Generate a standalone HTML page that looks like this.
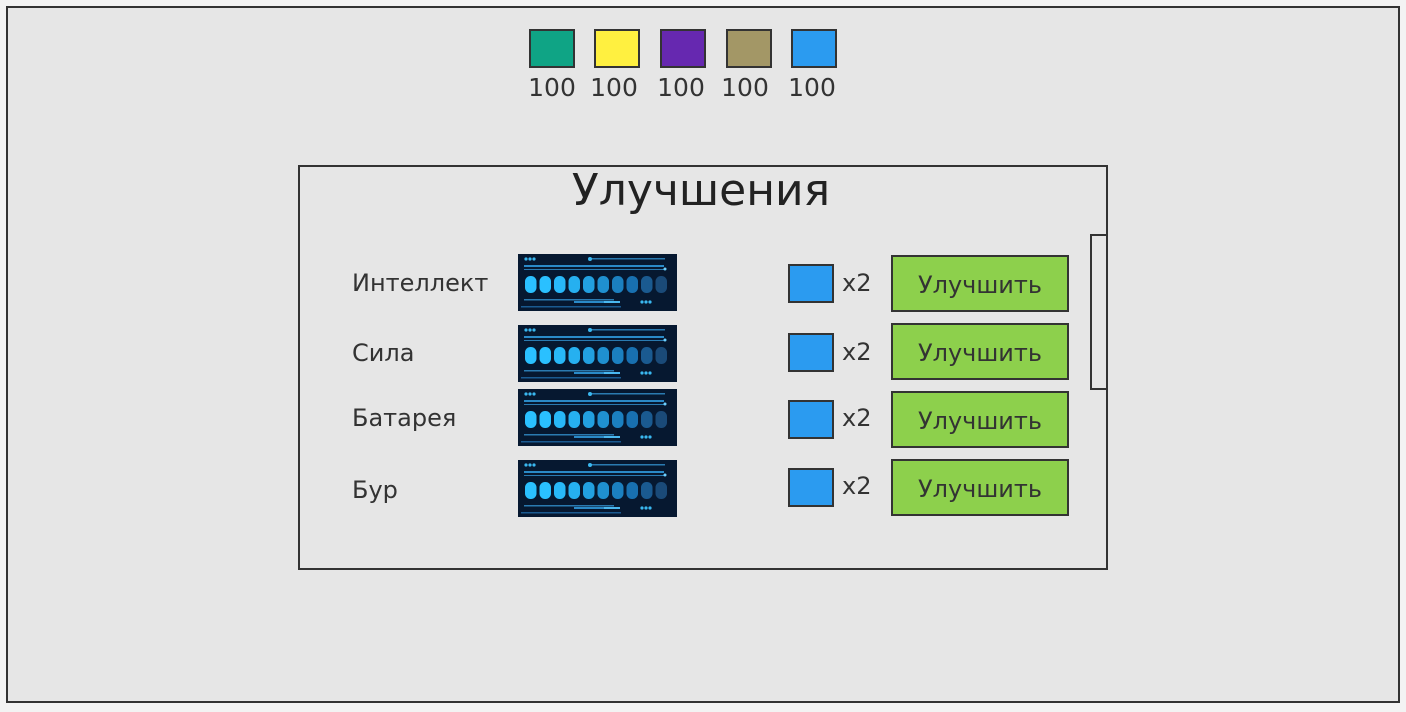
<!DOCTYPE html>
<html><head><meta charset="utf-8"><style>
body{margin:0;width:1406px;height:712px;background:#f3f3f3;position:relative;overflow:hidden;font-family:"DejaVu Sans","Liberation Sans",sans-serif;color:#333}
.a{position:absolute;box-sizing:border-box}
.sq{border:2px solid #333;width:46px;height:39px;top:29px}
.n{top:73px;width:60px;text-align:center;font-size:25px;line-height:30px}
.lbl{left:352px;font-size:24px;line-height:30px}
.bar{left:518px;width:159px;height:57px}
.bs{left:788px;width:46px;height:39px;background:#2b9bf0;border:2px solid #333}
.x2{left:842px;font-size:24px;line-height:30px}
.btn{left:891px;width:178px;height:57px;background:#8dd04c;border:2px solid #333;font-size:24px;text-align:center;line-height:56px}
</style></head><body>
<svg width="0" height="0" style="position:absolute"><defs>
<symbol id="b" viewBox="0 0 159 57">
<rect width="159" height="57" fill="#061830"/>
<circle cx="8" cy="5" r="1.6" fill="#3ab8f0"/><circle cx="12" cy="5" r="1.6" fill="#3ab8f0"/><circle cx="16" cy="5" r="1.6" fill="#3ab8f0"/>
<rect x="72" y="4" width="75" height="1.5" fill="#2a7ab0"/><circle cx="72" cy="5" r="2" fill="#3ab8f0"/>
<rect x="6" y="11" width="140" height="2" fill="#2a8ac8"/><rect x="6" y="15" width="141" height="1" fill="#2a7ab0"/><circle cx="147" cy="15" r="1.5" fill="#6cd0ff"/>
<g>
<rect x="7" y="22" width="11.5" height="17" rx="5.5" fill="#2ac0ff"/><rect x="21.5" y="22" width="11.5" height="17" rx="5.5" fill="#2ac0ff"/><rect x="36" y="22" width="11.5" height="17" rx="5.5" fill="#28b8f8"/><rect x="50.5" y="22" width="11.5" height="17" rx="5.5" fill="#26b0f0"/><rect x="65" y="22" width="11.5" height="17" rx="5.5" fill="#22a0e0"/><rect x="79.5" y="22" width="11.5" height="17" rx="5.5" fill="#1f90d0"/><rect x="94" y="22" width="11.5" height="17" rx="5.5" fill="#1b80c0"/><rect x="108.5" y="22" width="11.5" height="17" rx="5.5" fill="#1870b0"/><rect x="123" y="22" width="11.5" height="17" rx="5.5" fill="#1a5a90"/><rect x="137.5" y="22" width="11.5" height="17" rx="5.5" fill="#1a4a78"/></g>
<rect x="6" y="45" width="90" height="1.5" fill="#2a7ab0"/><rect x="56" y="47" width="33" height="2" fill="#2a8ac8"/><rect x="86" y="47" width="16" height="2" fill="#4ab8f0"/>
<circle cx="124" cy="48" r="1.6" fill="#3ab8f0"/><circle cx="128" cy="48" r="1.6" fill="#3ab8f0"/><circle cx="132" cy="48" r="1.6" fill="#3ab8f0"/>
<rect x="3" y="52" width="100" height="1.5" fill="#1a5a90"/>
</symbol></defs></svg>
<div class="a" style="left:6px;top:6px;width:1394px;height:697px;border:2px solid #333;background:#e6e6e6"></div>

<div class="a sq" style="left:529px;background:#0fa485"></div>
<div class="a sq" style="left:594px;background:#fff040"></div>
<div class="a sq" style="left:660px;background:#6628b0"></div>
<div class="a sq" style="left:726px;background:#a39766"></div>
<div class="a sq" style="left:791px;background:#2b9bf0"></div>
<div class="a n" style="left:522px">100</div>
<div class="a n" style="left:584px">100</div>
<div class="a n" style="left:651px">100</div>
<div class="a n" style="left:715px">100</div>
<div class="a n" style="left:782px">100</div>

<div class="a" style="left:298px;top:165px;width:810px;height:405px;border:2px solid #333"></div>
<div class="a" style="left:298px;top:163px;width:806px;text-align:center;font-size:44px;line-height:56px;color:#222">Улучшения</div>
<div class="a" style="left:1090px;top:234px;width:18px;height:156px;border:2px solid #333;border-right:none"></div>

<div class="a lbl" style="top:268px">Интеллект</div>
<div class="a lbl" style="top:338px">Сила</div>
<div class="a lbl" style="top:403px">Батарея</div>
<div class="a lbl" style="top:475px">Бур</div>

<svg class="a bar" style="top:254px"><use href="#b"/></svg>
<svg class="a bar" style="top:325px"><use href="#b"/></svg>
<svg class="a bar" style="top:389px"><use href="#b"/></svg>
<svg class="a bar" style="top:460px"><use href="#b"/></svg>

<div class="a bs" style="top:264px"></div>
<div class="a bs" style="top:333px"></div>
<div class="a bs" style="top:400px"></div>
<div class="a bs" style="top:468px"></div>
<div class="a x2" style="top:268px">x2</div>
<div class="a x2" style="top:337px">x2</div>
<div class="a x2" style="top:403px">x2</div>
<div class="a x2" style="top:471px">x2</div>

<div class="a btn" style="top:255px">Улучшить</div>
<div class="a btn" style="top:323px">Улучшить</div>
<div class="a btn" style="top:391px">Улучшить</div>
<div class="a btn" style="top:459px">Улучшить</div>
</body></html>
